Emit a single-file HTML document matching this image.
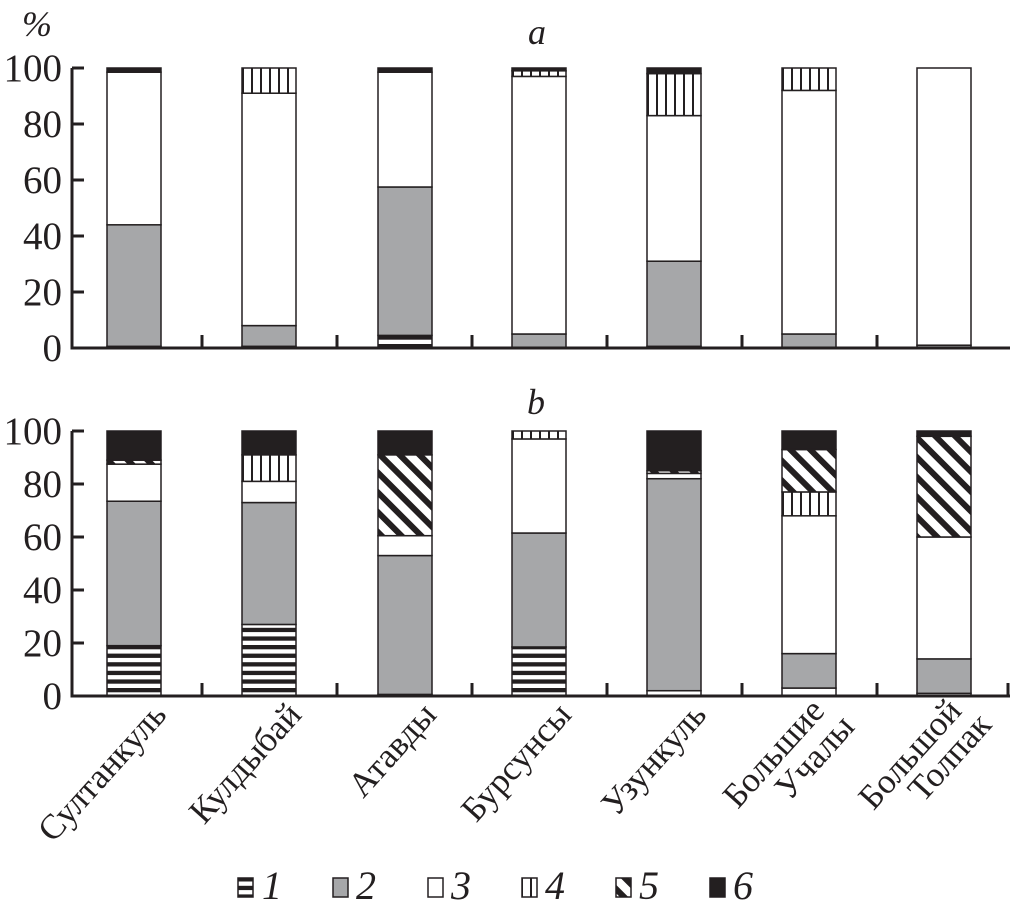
<!DOCTYPE html>
<html><head><meta charset="utf-8"><style>body{margin:0;background:#fff}svg{display:block}text{font-family:"Liberation Serif",serif;fill:#231f20}</style></head><body>
<svg width="1010" height="915" viewBox="0 0 1010 915" xmlns="http://www.w3.org/2000/svg">
<defs>
<pattern id="p1" patternUnits="userSpaceOnUse" width="10" height="8.6"><rect width="10" height="8.6" fill="#fff"/><rect y="0" width="10" height="4.3" fill="#231f20"/></pattern>
<pattern id="p4" patternUnits="userSpaceOnUse" width="9" height="10" x="107"><rect width="9" height="10" fill="#fff"/><rect x="0" width="2" height="10" fill="#231f20"/></pattern>
<pattern id="p5" patternUnits="userSpaceOnUse" width="14" height="14" patternTransform="rotate(-45)"><rect width="14" height="14" fill="#fff"/><rect width="6" height="14" fill="#231f20"/></pattern>
</defs>
<g id="bars"></g>
<script>
(function(){
var F={1:"url(#p1)",2:"#a6a7a9",3:"#fff",4:"url(#p4)",5:"url(#p5)",6:"#231f20"};
var xs=[107,242,378,512,647,782,917],w=54;
var dTop=[[[1,.6],[2,44],[3,98.5],[6,100]],[[1,.6],[2,8],[3,91],[4,100]],[[1,4.5],[2,57.5],[3,98.5],[6,100]],[[2,5],[3,97],[4,99],[6,100]],[[1,.6],[2,31],[3,83],[4,98],[6,100]],[[2,5],[3,92],[4,100]],[[2,1],[3,100]]];
var dBot=[[[1,19],[2,73.5],[3,87.5],[5,89],[6,100]],[[1,27],[2,73],[3,81],[4,91],[6,100]],[[1,.6],[2,53],[3,60.5],[5,91],[6,100]],[[1,18.5],[2,61.5],[3,97],[4,100]],[[3,2],[2,82],[3,84],[5,85],[6,100]],[[3,3],[2,16],[3,68],[4,77],[5,93],[6,100]],[[3,1],[2,14],[3,60],[5,98],[6,100]]];
var NS="http://www.w3.org/2000/svg",g=document.getElementById("bars");
function draw(d,y0,k){d.forEach(function(b,i){var p=0;b.forEach(function(e){var c=e[0],v=e[1];var r=document.createElementNS(NS,"rect");r.setAttribute("x",xs[i]);r.setAttribute("y",y0-v*k);r.setAttribute("width",w);r.setAttribute("height",(v-p)*k);r.setAttribute("fill",F[c]);r.setAttribute("stroke","#231f20");r.setAttribute("stroke-width","1.5");g.appendChild(r);p=v;});});}
draw(dTop,348,2.8);draw(dBot,696,2.65);
})();
</script>
<g stroke="#231f20" stroke-width="3" fill="none">
<path d="M72 68V348H1010M72 431V696H1010"/>
<path d="M72 68h12M72 124h12M72 180h12M72 236h12M72 292h12M72 431h12M72 484h12M72 537h12M72 590h12M72 643h12"/>
<path d="M202 348v-13M337 348v-13M472 348v-13M607 348v-13M742 348v-13M877 348v-13M202 696v-13M337 696v-13M472 696v-13M607 696v-13M742 696v-13M877 696v-13M1008 696v-13"/>
</g>
<g font-size="39" text-anchor="end">
<text x="62" y="81">100</text><text x="62" y="137">80</text><text x="62" y="193">60</text><text x="62" y="249">40</text><text x="62" y="305">20</text><text x="62" y="361">0</text>
<text x="62" y="444">100</text><text x="62" y="497">80</text><text x="62" y="550">60</text><text x="62" y="603">40</text><text x="62" y="656">20</text><text x="62" y="709">0</text>
</g>
<text x="22" y="36" font-size="36" font-style="italic">%</text>
<text x="528" y="44" font-size="36" font-style="italic">a</text>
<text x="527" y="414" font-size="36" font-style="italic">b</text>
<g font-size="35" text-anchor="end">
<text transform="translate(168,716) rotate(-48)">Султанкуль</text>
<text transform="translate(303,716) rotate(-48)">Кулдыбай</text>
<text transform="translate(438,716) rotate(-48)">Атавды</text>
<text transform="translate(573,716) rotate(-48)">Бурсунсы</text>
<text transform="translate(708,716) rotate(-48)">Узункуль</text>
<text transform="translate(826,712) rotate(-48)">Большие</text>
<text transform="translate(856,728) rotate(-48)">Учалы</text>
<text transform="translate(963,712) rotate(-48)">Большой</text>
<text transform="translate(993,726) rotate(-48)">Толпак</text>
</g>
<g stroke="#231f20" stroke-width="1.5">
<rect x="238" y="878" width="15" height="19" fill="url(#p1)"/>
<rect x="333" y="878" width="15" height="19" fill="#a6a7a9"/>
<rect x="428" y="878" width="15" height="19" fill="#fff"/>
<rect x="522" y="878" width="15" height="19" fill="url(#p4)"/>
<rect x="616" y="878" width="15" height="19" fill="url(#p5)"/>
<rect x="710" y="878" width="15" height="19" fill="#231f20"/>
</g>
<g font-size="40" font-style="italic">
<text x="262" y="899">1</text><text x="356" y="899">2</text><text x="451" y="899">3</text><text x="545" y="899">4</text><text x="639" y="899">5</text><text x="733" y="899">6</text>
</g>
</svg>
</body></html>
